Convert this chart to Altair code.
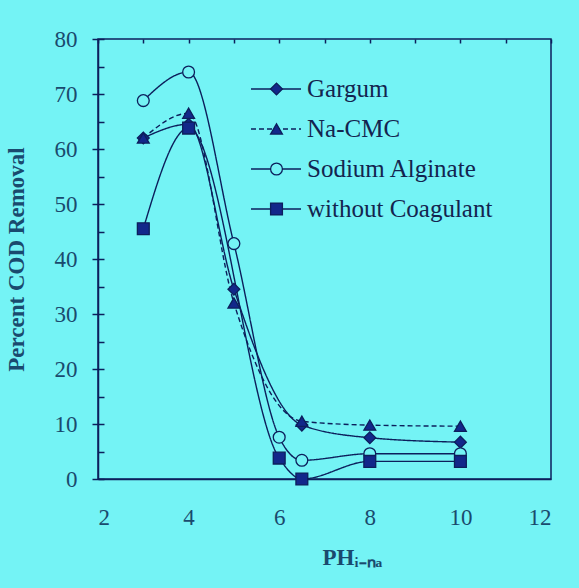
import altair as alt
import pandas as pd

series_names = ["Gargum", "Na-CMC", "Sodium Alginate", "without Coagulant"]

gargum_x = [3, 4, 5, 6.5, 8, 10]
gargum_y = [62, 64.5, 34.5, 9.8, 7.5, 6.7]

cmc_x = [3, 4, 5, 6.5, 8, 10]
cmc_y = [62, 66.5, 32, 10.5, 9.8, 9.6]

alginate_x = [3, 4, 5, 6, 6.5, 8, 10]
alginate_y = [68.8, 74, 42.8, 7.6, 3.4, 4.6, 4.6]

without_x = [3, 4, 6, 6.5, 8, 10]
without_y = [45.5, 63.8, 3.8, 0, 3.2, 3.2]

y_ticks = [0, 10, 20, 30, 40, 50, 60, 70, 80]
y_ticks_all = [0, 5, 10, 15, 20, 25, 30, 35, 40, 45, 50, 55, 60, 65, 70, 75, 80]
x_ticks = [2, 4, 6, 8, 10, 12]
x_ticks_all = [2, 3, 4, 5, 6, 7, 8, 9, 10, 11, 12]

rows = []
for name, xs, ys in [
    ("Gargum", gargum_x, gargum_y),
    ("Na-CMC", cmc_x, cmc_y),
    ("Sodium Alginate", alginate_x, alginate_y),
    ("without Coagulant", without_x, without_y),
]:
    for i, (xv, yv) in enumerate(zip(xs, ys)):
        rows.append({"series": name, "ph": xv, "cod": yv, "order": i})
df = pd.DataFrame(rows)

BG = "#74f3f5"
NAVY = "#0c1f5c"
MARK = "#12288a"
TEXT = "#1a4a6e"
SERIF = "Liberation Serif"

x_scale = alt.Scale(domain=[2, 12], nice=False, zero=False)
y_scale = alt.Scale(domain=[0, 80], nice=False)

base = alt.Chart(df)

lines = base.transform_calculate(line_key="datum.series").mark_line(
    interpolate="monotone", color=NAVY, strokeWidth=1.4
).encode(
    x=alt.X("ph:Q", scale=x_scale,
            axis=alt.Axis(values=x_ticks, tickSize=0, labelPadding=27,
                          labelFont=SERIF, labelFontSize=23, labelColor=TEXT,
                          domainColor=NAVY, domainWidth=1.5, grid=False,
                          title="PHᵢ₋ₙₐ", titleFont=SERIF, titleFontSize=23,
                          titleFontWeight="bold", titleColor=TEXT,
                          titleAnchor="start", titleAlign="left", titleX=224,
                          titleY=78, titleBaseline="middle")),
    y=alt.Y("cod:Q", scale=y_scale,
            axis=alt.Axis(values=y_ticks, tickSize=6, tickColor=NAVY, tickWidth=1.5,
                          labelPadding=15, labelFont=SERIF, labelFontSize=23,
                          labelColor=TEXT, domainColor=NAVY, domainWidth=1.5,
                          grid=False, title="Percent COD Removal", titleFont=SERIF,
                          titleFontSize=23, titleFontWeight="bold", titleColor=TEXT,
                          titleAngle=270, titleX=-82, titleY=220,
                          titleAlign="center", titleBaseline="middle")),
    order="order:Q",
    strokeDash=alt.StrokeDash(
        "line_key:N",
        scale=alt.Scale(range=[[1, 0], [5, 3], [1, 0], [1, 0]]),
        legend=alt.Legend(orient="none", legendX=152, legendY=30, direction="vertical",
                          title=None, symbolType="stroke", symbolSize=2500,
                          symbolStrokeColor=NAVY, symbolStrokeWidth=1.4,
                          clipHeight=40, rowPadding=0, padding=0,
                          labelExpr="''", labelFontSize=1, labelOffset=0),
    ),
)

shape_legend = alt.Legend(orient="none", legendX=166, legendY=30, direction="vertical",
                          title=None, symbolSize=140, symbolStrokeWidth=1.3,
                          symbolOpacity=1, labelLimit=0,
                          clipHeight=40, rowPadding=0, padding=0, zindex=2,
                          labelFont=SERIF, labelFontSize=25, labelColor="#13244f",
                          labelOffset=18, labelBaseline="middle")

points = base.mark_point(filled=True, size=140, strokeWidth=1.3, opacity=1).encode(
    x=alt.X("ph:Q", scale=x_scale,
            axis=alt.Axis(values=x_ticks_all, tickSize=4, tickColor=NAVY, tickWidth=1.5,
                          offset=-4, domain=False, labels=False, title=None, grid=False)),
    y=alt.Y("cod:Q", scale=y_scale,
            axis=alt.Axis(values=y_ticks_all, tickSize=6, tickColor=NAVY, tickWidth=1.5,
                          offset=-6, domain=False, labels=False, title=None, grid=False,
                          orient="left")),
    shape=alt.Shape(
        "series:N",
        scale=alt.Scale(domain=series_names,
                        range=["diamond", "triangle-up", "circle", "square"]),
        legend=shape_legend,
    ),
    fill=alt.Fill(
        "series:N",
        scale=alt.Scale(domain=series_names, range=[MARK, MARK, BG, MARK]),
        legend=shape_legend,
    ),
    stroke=alt.Stroke(
        "series:N",
        scale=alt.Scale(domain=series_names, range=[NAVY, NAVY, NAVY, NAVY]),
        legend=shape_legend,
    ),
)

chart = alt.layer(lines, points).resolve_axis(x="independent", y="independent").properties(
    width=453,
    height=440,
    background=BG,
    padding={"left": 98, "top": 39, "right": 28, "bottom": 109},
    autosize=alt.AutoSizeParams(type="none"),
).configure_view(stroke=NAVY, strokeWidth=1.5)

chart.save("out.html", embed_options={"renderer": "svg", "actions": False})
